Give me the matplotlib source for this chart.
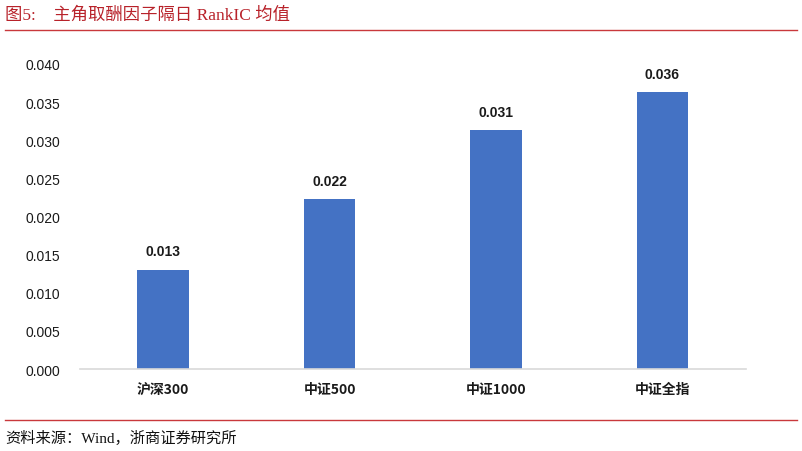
import matplotlib.pyplot as plt
from matplotlib.lines import Line2D

categories = ['沪深300', '中证500', '中证1000', '中证全指']
values = [0.0130, 0.0223, 0.0313, 0.0363]
yticks = [0.000, 0.005, 0.010, 0.015, 0.020, 0.025, 0.030, 0.035, 0.040]

title_text = '图5:    主角取酬因子隔日 RankIC 均值'
source_text = '资料来源：Wind，浙商证券研究所'

red = '#B8222A'
blue = '#4472C4'
serif = ['Liberation Serif', 'Noto Sans CJK SC']
sans = ['Liberation Sans', 'Noto Sans CJK SC']

fig = plt.figure(figsize=(8.02, 4.52), dpi=100)
ax = fig.add_axes([0.0998, 0.1814, 0.830, 0.6748])

x = range(len(categories))
bars = ax.bar(x, values, width=0.31, color=blue)
for b, v in zip(bars, values):
    ax.text(b.get_x() + b.get_width() / 2, v + 0.0015, f'{v:.3f}',
            ha='center', va='bottom', fontsize=10, family=sans,
            fontweight='bold', color='#1a1a1a')

ax.set_xlim(-0.5, len(categories) - 0.5)
ax.set_ylim(0, 0.040)
ax.set_yticks(yticks)
ax.set_yticklabels([f'{t:.3f}' for t in yticks], family=sans, fontsize=10)
ax.set_xticks(list(x))
ax.set_xticklabels(categories, family=['Noto Sans CJK SC'], fontsize=10, fontweight='bold')
for s in ['top', 'right', 'left']:
    ax.spines[s].set_visible(False)
ax.spines['bottom'].set_color('#D9D9D9')
ax.spines['bottom'].set_linewidth(1.2)
ax.tick_params(axis='both', length=0, colors='#1a1a1a')
ax.tick_params(axis='y', pad=14)
ax.tick_params(axis='x', pad=9)

fig.text(0.006, 0.965, title_text, family=serif, fontsize=12.5, color=red, va='center')
fig.add_artist(Line2D([0.006, 0.994], [0.931, 0.931], color='#C9383C', lw=1.0))
fig.add_artist(Line2D([0.006, 0.994], [0.068, 0.068], color='#C9383C', lw=1.0))
fig.text(0.006, 0.030, source_text, family=serif, fontsize=11, color='#111111', va='center')

fig.savefig('out.png', dpi=100)
